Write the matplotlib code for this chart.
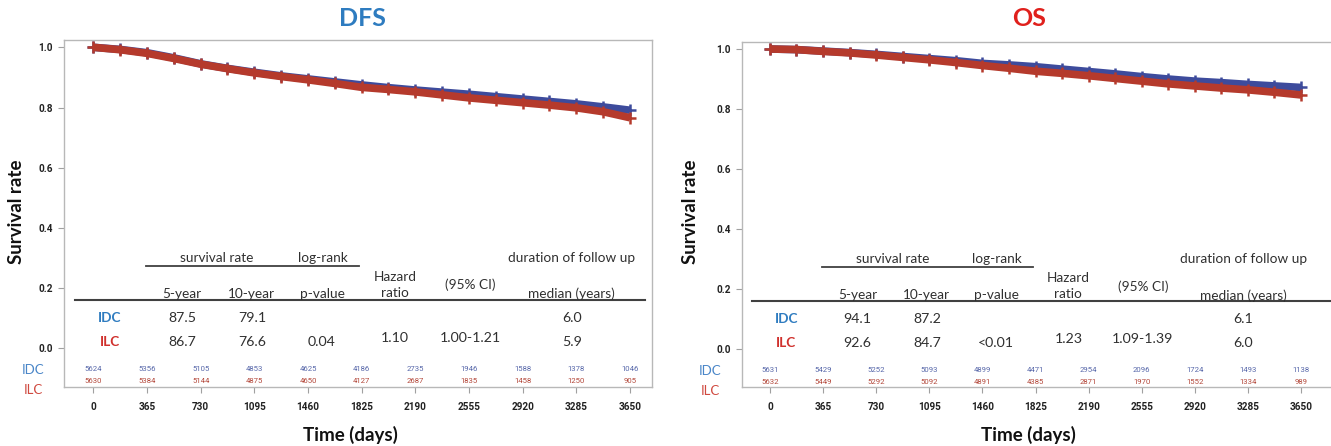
import numpy as np
import matplotlib
matplotlib.use("Agg")
import matplotlib.pyplot as plt

# ----------------------
# data
# ----------------------
days = [0, 182, 365, 547, 730, 912, 1095, 1277, 1460, 1642, 1825,
        2007, 2190, 2372, 2555, 2737, 2920, 3102, 3285, 3467, 3650]

dfs_idc = [1.000, 0.993, 0.982, 0.965, 0.945, 0.930, 0.917, 0.905, 0.895, 0.885, 0.875,
           0.866, 0.858, 0.851, 0.844, 0.836, 0.828, 0.820, 0.812, 0.802, 0.791]
dfs_ilc = [1.000, 0.992, 0.980, 0.963, 0.944, 0.929, 0.915, 0.903, 0.892, 0.880, 0.867,
           0.860, 0.852, 0.842, 0.832, 0.824, 0.816, 0.808, 0.799, 0.786, 0.766]
os_idc = [1.000, 0.998, 0.993, 0.988, 0.982, 0.975, 0.968, 0.961, 0.952, 0.947, 0.941,
          0.933, 0.925, 0.917, 0.908, 0.900, 0.893, 0.888, 0.882, 0.877, 0.872]
os_ilc = [1.000, 0.998, 0.992, 0.987, 0.980, 0.972, 0.964, 0.955, 0.945, 0.936, 0.926,
          0.919, 0.911, 0.902, 0.893, 0.884, 0.877, 0.870, 0.864, 0.856, 0.847]

risk_days = [0, 365, 730, 1095, 1460, 1825, 2190, 2555, 2920, 3285, 3650]
dfs_risk_idc = [5624, 5356, 5105, 4853, 4625, 4186, 2735, 1946, 1588, 1378, 1046]
dfs_risk_ilc = [5630, 5384, 5144, 4875, 4650, 4127, 2687, 1835, 1458, 1250, 905]
os_risk_idc = [5631, 5429, 5252, 5093, 4899, 4471, 2954, 2096, 1724, 1493, 1138]
os_risk_ilc = [5632, 5449, 5292, 5092, 4891, 4385, 2871, 1970, 1552, 1334, 989]

# table: 5-year, 10-year, p-value, HR, 95% CI, median follow up
dfs_tab_idc = ["87.5", "79.1", "", "", "", "6.0"]
dfs_tab_ilc = ["86.7", "76.6", "0.04", "1.10", "1.00-1.21", "5.9"]
os_tab_idc = ["94.1", "87.2", "", "", "", "6.1"]
os_tab_ilc = ["92.6", "84.7", "<0.01", "1.23", "1.09-1.39", "6.0"]

# ----------------------
# styles
# ----------------------
C_IDC = "#3d4b9c"
C_ILC = "#b53a2c"
C_IDC_TXT = "#2f7cc0"
C_ILC_TXT = "#d0312d"
C_RISK_IDC = "#5868aa"
C_RISK_ILC = "#b4493c"
TXT = "#303030"
TFONT = "Lato"
TICKFONT = "Roboto"

fig = plt.figure(figsize=(13.31, 4.46), dpi=100)
W, H = 1331.0, 446.0

# column centres of the table (days)
col_x = [602, 1078, 1555, 2051, 2562, 3254]


def draw_panel(ax, idc, ilc, risk_idc, risk_ilc, tab_idc, tab_ilc, line_end):
    ax.plot(days, idc, color=C_IDC, lw=5.5, marker="+", ms=8, mew=1.8,
            solid_capstyle="butt", zorder=3)
    ax.plot(days, ilc, color=C_ILC, lw=5.5, marker="+", ms=8, mew=1.8,
            solid_capstyle="butt", zorder=4)

    ax.set_xticks(risk_days)
    ax.set_yticks([0.0, 0.2, 0.4, 0.6, 0.8, 1.0])
    ax.set_yticklabels(["0.0", "0.2", "0.4", "0.6", "0.8", "1.0"])
    for s in ax.spines.values():
        s.set_color("#b8b8b8")
        s.set_linewidth(1.0)
    ax.tick_params(axis="both", colors="#a0a0a0", length=4, width=0.8,
                   labelcolor="#222222", labelsize=7.2)
    ax.tick_params(axis="x", pad=7)
    ax.tick_params(axis="y", pad=4)
    for lab in ax.get_xticklabels() + ax.get_yticklabels():
        lab.set_fontfamily(TICKFONT)
        lab.set_fontweight("bold")

    # number at risk
    for d, a, b in zip(risk_days, risk_idc, risk_ilc):
        ax.text(d, -0.069, str(a), color=C_RISK_IDC, fontsize=5.6,
                ha="center", va="center", family=TICKFONT)
        ax.text(d, -0.110, str(b), color=C_RISK_ILC, fontsize=5.6,
                ha="center", va="center", family=TICKFONT)
    ax.text(-410, -0.072, "IDC", color="#4a86c8", fontsize=9.5, ha="center",
            va="center", family=TFONT, clip_on=False)
    ax.text(-410, -0.140, "ILC", color="#d04a40", fontsize=9.5, ha="center",
            va="center", family=TFONT, clip_on=False)

    # summary table
    kw = dict(ha="center", va="center", family=TFONT, color=TXT, fontsize=9.8)
    ax.text(841, 0.300, "survival rate", **kw)
    ax.text(1561, 0.300, "log-rank", **kw)
    ax.text(3254, 0.300, "duration of follow up", **kw)
    ax.plot([357, 1807], [0.273, 0.273], color="#404040", lw=1.3)
    ax.text(2051, 0.237, "Hazard", **kw)
    ax.text(2051, 0.184, "ratio", **kw)
    ax.text(2562, 0.210, "(95% CI)", **kw)
    for x, t in zip(col_x[:3] + col_x[5:], ["5-year", "10-year", "p-value", "median (years)"]):
        ax.text(x, 0.180, t, **kw)
    ax.plot([-125, line_end], [0.160, 0.160], color="#404040", lw=1.5, clip_on=False)

    ax.text(113, 0.100, "IDC", color=C_IDC_TXT, fontsize=9.8, fontweight="bold",
            ha="center", va="center", family=TFONT)
    ax.text(113, 0.021, "ILC", color=C_ILC_TXT, fontsize=9.8, fontweight="bold",
            ha="center", va="center", family=TFONT)
    kw2 = dict(kw, fontsize=10.2)
    for i, (x, a, b) in enumerate(zip(col_x, tab_idc, tab_ilc)):
        yb = 0.034 if i in (3, 4) else 0.021
        if a:
            ax.text(x, 0.100, a, **kw2)
        if b:
            ax.text(x, yb, b, **kw2)


# left panel (DFS)
ax1 = fig.add_axes([64 / W, 1 - 387 / H, (652 - 64) / W, (387 - 40) / H])
ax1.set_xlim(-200, 3800)
ax1.set_ylim(-0.1286, 1.0243)
draw_panel(ax1, dfs_idc, dfs_ilc, dfs_risk_idc, dfs_risk_ilc,
           dfs_tab_idc, dfs_tab_ilc, 3752)

# right panel (OS)
ax2 = fig.add_axes([742 / W, 1 - 387 / H, (1345 - 742) / W, (387 - 42) / H])
ax2.set_xlim(-192.5, 3952)
ax2.set_ylim(-0.1255, 1.0233)
draw_panel(ax2, os_idc, os_ilc, os_risk_idc, os_risk_ilc,
           os_tab_idc, os_tab_ilc, 3952)

# titles and axis labels
fig.text(362 / W, 1 - 19 / H, "DFS", color="#2e7cc0", fontsize=18,
         fontweight="bold", ha="center", va="center", family=TFONT)
fig.text(1029 / W, 1 - 19 / H, "OS", color="#e0201c", fontsize=18,
         fontweight="bold", ha="center", va="center", family=TFONT)
for xl in (17, 690):
    fig.text(xl / W, 1 - 212 / H, "Survival rate", rotation=90, fontsize=13.5,
             fontweight="bold", ha="center", va="center", family=TFONT, color="#111111")
for xc in (350, 1028):
    fig.text(xc / W, 1 - 435 / H, "Time (days)", fontsize=13.5,
             fontweight="bold", ha="center", va="center", family=TFONT, color="#111111")

fig.savefig("out.png", dpi=100)
